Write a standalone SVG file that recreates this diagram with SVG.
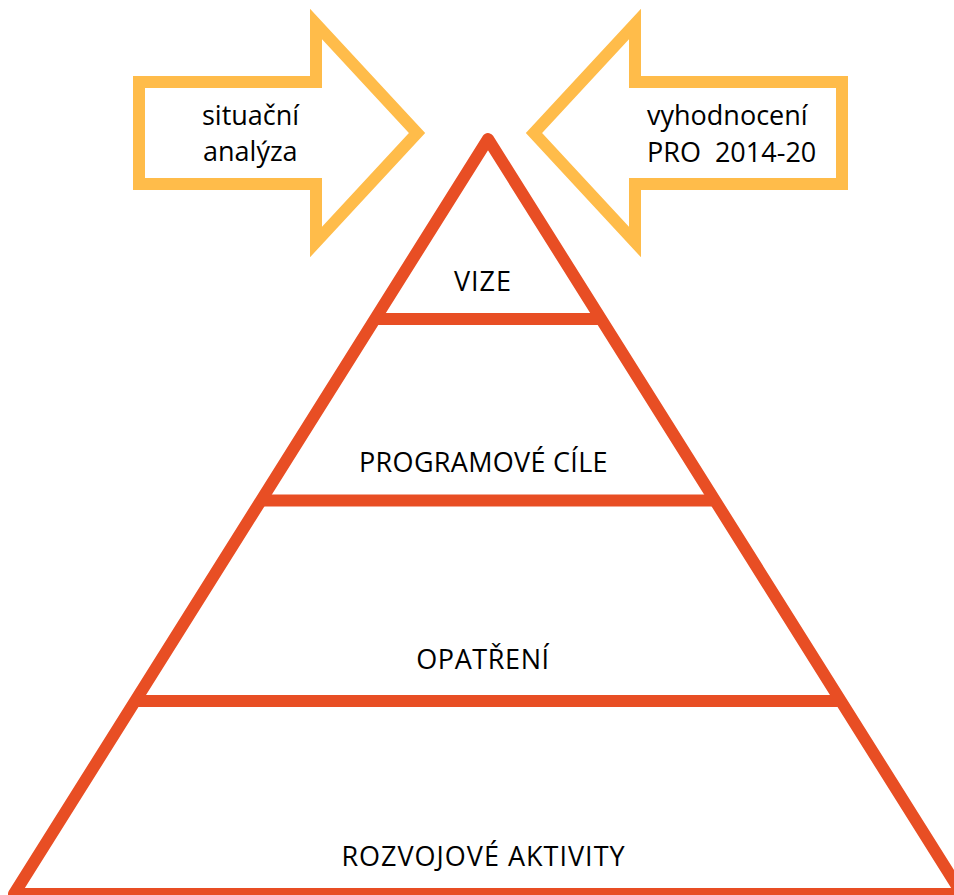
<svg xmlns="http://www.w3.org/2000/svg" width="954" height="895" viewBox="0 0 954 895">
  <style>
    .arrow { fill: #ffffff; stroke: #FFBC4A; stroke-width: 12; stroke-linejoin: miter; stroke-miterlimit: 10; }
    .pyr { fill: none; stroke: #E84E24; stroke-width: 12; stroke-linejoin: round; }
    .div { stroke: #E84E24; stroke-width: 12; }
    .lbl { font-family: "Open Sans", "Noto Sans", sans-serif; font-size: 27px; fill: #000000; }
    .mid { text-anchor: middle; }
  </style>
  <rect width="954" height="895" fill="#ffffff"/>
  <g id="arrow-situacni">
    <path class="arrow" d="M139,82 H316 V24 L417,133 L316,242 V184 H139 Z"/>
    <text class="lbl" x="202" y="125">situační</text>
    <text class="lbl" x="203" y="161">analýza</text>
  </g>
  <g id="arrow-vyhodnoceni">
    <path class="arrow" d="M842,82 H635 V24 L534,133 L635,242 V184 H842 Z"/>
    <text class="lbl" x="647" y="125">vyhodnocení</text>
    <text class="lbl" x="647" y="162" xml:space="preserve">PRO  2014-20</text>
  </g>
  <g id="connectors">
    <polygon class="pyr" points="488,139 14,894 962,894"/>
    <line class="div" x1="375" y1="319" x2="601" y2="319"/>
    <line class="div" x1="261" y1="500.5" x2="715" y2="500.5"/>
    <line class="div" x1="135" y1="701" x2="841" y2="701"/>
  </g>
  <g id="level-vize">
    <text class="lbl mid" x="483" y="291" letter-spacing="1">VIZE</text>
  </g>
  <g id="level-cile">
    <text class="lbl mid" x="483.5" y="472" letter-spacing="0.3">PROGRAMOVÉ CÍLE</text>
  </g>
  <g id="level-opatreni">
    <text class="lbl mid" x="483" y="669" letter-spacing="0.6">OPATŘENÍ</text>
  </g>
  <g id="level-aktivity">
    <text class="lbl mid" x="483.5" y="866" letter-spacing="1">ROZVOJOVÉ AKTIVITY</text>
  </g>
</svg>
